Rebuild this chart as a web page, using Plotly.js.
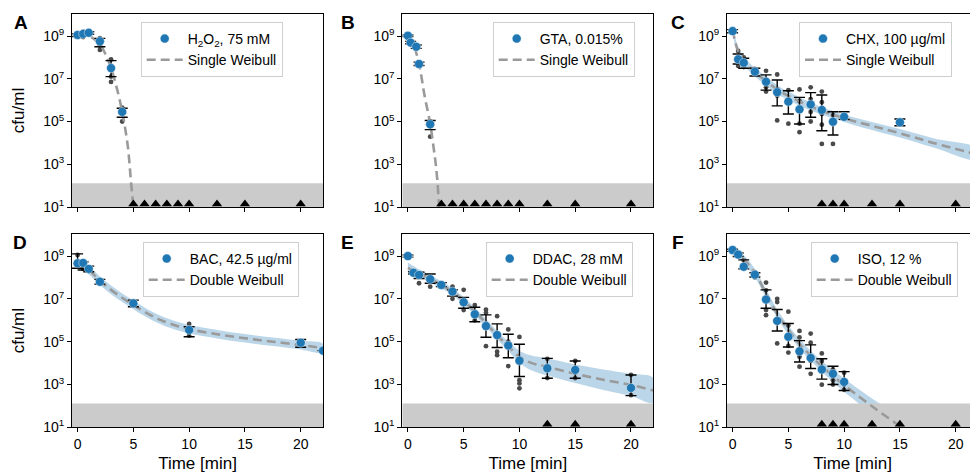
<!DOCTYPE html>
<html><head><meta charset="utf-8">
<script src="https://cdn.plot.ly/plotly-3.0.1.min.js"></script>
<style>html,body{margin:0;padding:0;overflow:hidden;background:#fff}#plot{width:990px;height:474px}</style>
</head><body><div id="plot"></div>
<script>
// ---- data (values read as log10 cfu/ml) ----
const DETECTION_LIMIT = 130;   // cfu/ml, grey band top
const BELOW_MARK = 14;         // y used for "below detection" triangles
const FIT_LABEL_SINGLE = 'Single Weibull';
const FIT_LABEL_DOUBLE = 'Double Weibull';

// A: H2O2, 75 mM
const A_t    = [0, 0.5, 1, 2, 3, 4];
const A_mean = [9.05, 9.1, 9.15, 8.75, 7.5, 5.45];
const A_hi   = [9.1, 9.2, 9.2, 8.89, 7.85, 5.62];
const A_lo   = [8.98, 9.0, 9.08, 8.5, 7.1, 5.2];
const A_rep_t = [0, 0, 0.5, 0.5, 1, 1, 2, 2, 2, 3, 3, 3, 4, 4];
const A_rep   = [9.0, 9.1, 9.2, 8.95, 9.2, 9.1, 8.9, 8.55, 8.35, 7.9, 7.1, 6.85, 5.65, 5.0];
const A_below = [5, 6, 7, 8, 9, 10, 12.5, 15, 20];
const A_fit_t = [0, 1, 1.5, 2, 2.5, 3, 3.5, 4, 4.5, 4.8, 5.0, 5.15];
const A_fit   = [9.1, 9.0, 8.85, 8.62, 8.15, 7.5, 6.6, 5.45, 3.85, 2.1, 1.0, 0.2];

// B: GTA, 0.015%
const B_t    = [0, 0.25, 0.75, 1, 2];
const B_mean = [9.01, 8.69, 8.5, 7.69, 4.87];
const B_hi   = [9.05, 8.75, 8.58, 7.78, 5.05];
const B_lo   = [8.97, 8.64, 8.42, 7.62, 4.62];
const B_rep_t = [0.25, 0.75, 1, 2, 2];
const B_rep   = [8.72, 8.48, 7.72, 5.0, 4.29];
const B_below = [3, 4, 5, 6, 7, 8, 9, 10, 12.5, 15, 20];
const B_fit_t = [0, 0.5, 1, 1.5, 2, 2.3, 2.5, 2.66, 2.8, 2.9];
const B_fit   = [9.05, 8.6, 7.7, 6.2, 4.9, 3.8, 3.0, 2.12, 1.0, 0.3];

// C: CHX, 100 µg/ml
const C_t    = [0, 0.5, 1, 2, 3, 4, 5, 6, 7, 8, 9, 10, 15];
const C_mean = [9.23, 7.91, 7.75, 7.33, 6.86, 6.37, 5.93, 5.57, 5.8, 5.54, 4.99, 5.22, 4.96];
const C_hi   = [9.3, 8.16, 7.96, 7.49, 7.18, 6.94, 6.44, 6.13, 6.35, 6.24, 5.46, 5.46, 5.12];
const C_lo   = [9.15, 7.69, 7.49, 7.13, 6.47, 5.73, 5.35, 4.88, 5.2, 4.57, 4.37, 5.1, 4.8];
const C_rep_t = [0.5, 0.5, 1, 1, 1, 2, 2, 3, 3, 3, 4, 4, 4, 4, 5, 5, 5, 6, 6, 6, 6, 7, 7, 7, 7, 8, 8, 8, 8, 8, 9, 9, 10];
const C_rep   = [8.3, 7.6, 8.0, 7.8, 7.55, 7.46, 7.2, 7.37, 6.6, 6.4, 7.2, 6.5, 6.2, 5.05, 6.47, 5.95, 4.9, 6.5, 5.95, 4.9, 4.5, 6.6, 6.05, 5.45, 5.0, 6.4, 5.9, 5.35, 4.85, 3.95, 5.3, 3.95, 5.25];
const C_below = [8, 9, 10, 12.5, 15, 20];
const C_fit_t = [0, 0.25, 0.5, 1, 2, 3, 4, 5, 7, 10, 12.5, 15, 18, 22];
const C_fit   = [9.3, 8.7, 8.3, 7.85, 7.3, 6.9, 6.5, 6.2, 5.7, 5.15, 4.8, 4.45, 4.0, 3.45];
const C_ci_hi = [9.45, 8.9, 8.5, 8.05, 7.5, 7.1, 6.7, 6.4, 5.88, 5.32, 4.98, 4.65, 4.22, 3.72];
const C_ci_lo = [9.15, 8.5, 8.1, 7.65, 7.1, 6.7, 6.3, 6.0, 5.52, 4.98, 4.6, 4.25, 3.78, 3.2];

// D: BAC, 42.5 µg/ml
const D_t    = [0, 0.5, 1, 2, 5, 10, 20, 22];
const D_mean = [8.66, 8.68, 8.4, 7.8, 6.79, 5.55, 4.95, 4.58];
const D_hi   = [9.1, 8.73, 8.53, 7.91, 6.94, 5.7, 5.1, 4.58];
const D_lo   = [8.43, 8.35, 8.27, 7.69, 6.63, 5.23, 4.74, 4.58];
const D_rep_t = [0, 0, 0.5, 1, 2, 5, 10, 10, 20];
const D_rep   = [9.05, 8.5, 8.4, 8.3, 7.75, 6.85, 5.83, 5.28, 5.0];
const D_below = [];
const D_fit_t = [0, 1, 2, 3, 4, 5, 6, 7.5, 9, 10, 12.5, 15, 17.5, 20, 22];
const D_fit   = [8.7, 8.35, 7.85, 7.42, 7.05, 6.72, 6.4, 6.0, 5.72, 5.58, 5.35, 5.16, 5.0, 4.84, 4.7];
const D_ci_hi = [8.9, 8.55, 8.05, 7.62, 7.25, 6.92, 6.6, 6.2, 5.92, 5.78, 5.55, 5.36, 5.2, 5.04, 4.9];
const D_ci_lo = [8.5, 8.15, 7.65, 7.22, 6.85, 6.52, 6.2, 5.8, 5.52, 5.38, 5.15, 4.96, 4.8, 4.64, 4.5];

// E: DDAC, 28 mM
const E_t    = [0, 0.5, 1, 2, 3, 4, 5, 6, 7, 8, 9, 10, 12.5, 15, 20];
const E_mean = [9.0, 8.22, 8.12, 7.92, 7.65, 7.34, 6.84, 6.28, 5.73, 5.31, 4.82, 4.11, 3.76, 3.68, 2.84];
const E_hi   = [9.05, 8.27, 8.25, 8.16, 7.76, 7.42, 7.07, 6.61, 6.25, 5.83, 5.35, 4.88, 4.22, 4.1, 3.44];
const E_lo   = [8.95, 8.16, 7.95, 7.73, 7.57, 7.13, 6.56, 5.93, 5.21, 4.73, 4.25, 3.37, 3.29, 3.29, 2.48];
const E_rep_t = [0.5, 1, 1, 2, 2, 3, 4, 4, 5, 5, 6, 6, 7, 7, 7, 8, 8, 8, 9, 9, 9, 10, 10, 10, 10, 12.5, 12.5, 15, 15, 20, 20];
const E_rep   = [8.2, 8.1, 7.73, 8.0, 7.57, 7.7, 7.57, 7.0, 7.42, 6.48, 6.71, 6.0, 6.5, 6.35, 4.79, 6.19, 4.53, 4.37, 5.57, 5.0, 3.86, 5.22, 3.2, 3.05, 2.82, 4.2, 3.3, 4.1, 3.3, 3.45, 2.5];
const E_below = [12.5, 15, 20];
const E_fit_t = [0, 1, 2, 3, 4, 5, 6, 7, 8, 9, 10, 11, 12.5, 15, 17.5, 20, 22];
const E_fit   = [8.45, 8.2, 7.95, 7.65, 7.34, 6.9, 6.42, 5.87, 5.3, 4.78, 4.3, 4.02, 3.82, 3.5, 3.22, 2.98, 2.72];
const E_ci_hi = [8.7, 8.38, 8.12, 7.82, 7.5, 7.08, 6.6, 6.06, 5.5, 5.0, 4.58, 4.36, 4.22, 3.93, 3.7, 3.5, 3.3];
const E_ci_lo = [8.2, 8.02, 7.78, 7.48, 7.18, 6.72, 6.24, 5.68, 5.1, 4.56, 4.02, 3.68, 3.42, 3.07, 2.74, 2.46, 2.15];

// F: ISO, 12 %
const F_t    = [0, 0.5, 1, 2, 3, 4, 5, 6, 7, 8, 9, 10];
const F_mean = [9.28, 9.07, 8.5, 8.13, 6.97, 5.97, 5.23, 4.55, 4.24, 3.7, 3.5, 3.12];
const F_hi   = [9.32, 9.14, 8.82, 8.22, 7.42, 6.5, 5.85, 5.05, 4.85, 4.2, 3.85, 3.6];
const F_lo   = [9.22, 8.98, 8.4, 8.02, 6.56, 5.5, 4.75, 4.05, 3.75, 3.25, 3.0, 2.72];
const F_rep_t = [1, 2, 2, 3, 3, 3, 3, 4, 4, 4, 4, 5, 5, 5, 5, 6, 6, 6, 6, 7, 7, 7, 7, 8, 8, 8, 9, 9, 9, 10, 10, 10];
const F_rep   = [8.8, 8.25, 8.0, 7.76, 7.4, 6.48, 6.24, 7.0, 6.85, 5.95, 4.92, 6.4, 5.75, 4.8, 4.49, 5.5, 5.2, 4.3, 3.83, 5.38, 4.95, 4.1, 3.5, 4.45, 4.1, 2.99, 3.7, 3.2, 3.0, 3.55, 3.0, 2.75];
const F_below = [8, 9, 10, 12.5, 15, 20];
const F_fit_t = [0, 1, 2, 3, 4, 5, 6, 7, 8, 9, 10, 11, 12.5, 14, 15, 16];
const F_fit   = [9.3, 8.85, 8.2, 7.25, 6.3, 5.55, 4.9, 4.35, 3.85, 3.4, 2.97, 2.57, 1.98, 1.42, 1.05, 0.7];
const F_ci_hi = [9.45, 9.05, 8.4, 7.45, 6.5, 5.75, 5.12, 4.58, 4.1, 3.68, 3.28, 2.9, 2.35, 1.85, 1.5, 1.2];
const F_ci_lo = [9.15, 8.65, 8.0, 7.05, 6.1, 5.35, 4.68, 4.12, 3.6, 3.12, 2.66, 2.24, 1.6, 0.99, 0.6, 0.2];

const panelLetters = ['A', 'B', 'C', 'D', 'E', 'F'];
const seriesNames = ['H<sub>2</sub>O<sub>2</sub>, 75 mM', 'GTA, 0.015%', 'CHX, 100 µg/ml', 'BAC, 42.5 µg/ml', 'DDAC, 28 mM', 'ISO, 12 %'];
const fitNames = [FIT_LABEL_SINGLE, FIT_LABEL_SINGLE, FIT_LABEL_SINGLE, FIT_LABEL_DOUBLE, FIT_LABEL_DOUBLE, FIT_LABEL_DOUBLE];
const yTickVals = [1e1, 1e3, 1e5, 1e7, 1e9];
const yTickText = ['10<sup>1</sup>', '10<sup>3</sup>', '10<sup>5</sup>', '10<sup>7</sup>', '10<sup>9</sup>'];
const xTickVals = [0, 5, 10, 15, 20];

// ---- build ----
const P = a => a.map(v => Math.pow(10, v));
const panels = [
  {t:A_t, m:A_mean, hi:A_hi, lo:A_lo, rt:A_rep_t, r:A_rep, below:A_below, ft:A_fit_t, f:A_fit},
  {t:B_t, m:B_mean, hi:B_hi, lo:B_lo, rt:B_rep_t, r:B_rep, below:B_below, ft:B_fit_t, f:B_fit},
  {t:C_t, m:C_mean, hi:C_hi, lo:C_lo, rt:C_rep_t, r:C_rep, below:C_below, ft:C_fit_t, f:C_fit, cih:C_ci_hi, cil:C_ci_lo},
  {t:D_t, m:D_mean, hi:D_hi, lo:D_lo, rt:D_rep_t, r:D_rep, below:D_below, ft:D_fit_t, f:D_fit, cih:D_ci_hi, cil:D_ci_lo},
  {t:E_t, m:E_mean, hi:E_hi, lo:E_lo, rt:E_rep_t, r:E_rep, below:E_below, ft:E_fit_t, f:E_fit, cih:E_ci_hi, cil:E_ci_lo},
  {t:F_t, m:F_mean, hi:F_hi, lo:F_lo, rt:F_rep_t, r:F_rep, below:F_below, ft:F_fit_t, f:F_fit, cih:F_ci_hi, cil:F_ci_lo}
];

const W = 990, H = 474;
const XR = [-0.5, 22], YR = [1, 10.03];
const colsPx = [[72, 323], [402.3, 653.3], [727, 978]];
const rowsPx = [[14, 207], [234, 427.3]];
const legendLeftPx = [[140.7, 22], [492.7, 22], [799, 22], [142.7, 242], [485.7, 242], [810.7, 242]];
const letterPx = [[21, 22.5], [348, 22.5], [678, 22.5], [20, 242.5], [347.5, 242.5], [677.5, 242.5]];
const FONT = 'Liberation Sans, Arial, sans-serif';

const traces = [];
const layout = {
  width: W, height: H, margin: {l:0, r:0, t:0, b:0},
  paper_bgcolor: '#fff', plot_bgcolor: '#fff',
  font: {family: FONT, color: '#000', size: 14},
  showlegend: true, annotations: []
};

panels.forEach((p, i) => {
  const n = i + 1, sfx = n === 1 ? '' : String(n);
  const xa = 'x' + sfx, ya = 'y' + sfx;
  const lg = 'legend' + sfx;
  const col = i % 3, row = Math.floor(i / 3);
  // confidence band
  if (p.cih) {
    traces.push({x:p.ft.concat(p.ft.slice().reverse()), y:P(p.cih).concat(P(p.cil).reverse()), xaxis:xa, yaxis:ya,
      type:'scatter', mode:'lines', fill:'toself', fillcolor:'rgba(31,119,180,0.3)', line:{width:0, shape:'spline'},
      hoverinfo:'skip', showlegend:false});
  }
  // detection band (drawn over the confidence band)
  traces.push({x:[XR[0], XR[1], XR[1], XR[0]], y:[10, 10, DETECTION_LIMIT, DETECTION_LIMIT], xaxis:xa, yaxis:ya,
    type:'scatter', mode:'lines', fill:'toself', fillcolor:'#cbcbcb', line:{width:0}, hoverinfo:'skip', showlegend:false});
  // replicates
  traces.push({x:p.rt, y:P(p.r), xaxis:xa, yaxis:ya, type:'scatter', mode:'markers',
    marker:{size:4.8, color:'#4a4a4a'}, showlegend:false});
  // fit line
  traces.push({x:p.ft, y:P(p.f), xaxis:xa, yaxis:ya, type:'scatter', mode:'lines', name:fitNames[i],
    line:{color:'#9a9a9a', width:2.6, dash:'9px,5px', shape:'spline'}, legend:lg, legendrank:2});
  // means with error bars
  const mv = P(p.m), hv = P(p.hi), lv = P(p.lo);
  traces.push({x:p.t, y:mv, xaxis:xa, yaxis:ya, type:'scatter', mode:'markers', name:seriesNames[i],
    marker:{size:9, color:'#1f77b4', line:{color:'rgba(255,255,255,0.7)', width:0.6}},
    error_y:{type:'data', symmetric:false, array:hv.map((h, k) => h - mv[k]), arrayminus:lv.map((l, k) => mv[k] - l),
      color:'#000', thickness:1.4, width:5.5},
    legend:lg, legendrank:1});
  // below detection
  if (p.below.length) {
    traces.push({x:p.below, y:p.below.map(() => BELOW_MARK), xaxis:xa, yaxis:ya, type:'scatter', mode:'markers',
      marker:{symbol:'triangle-up', size:9, color:'#000'}, cliponaxis:false, showlegend:false});
  }
  const xd = [colsPx[col][0] / W, colsPx[col][1] / W];
  const yd = [1 - rowsPx[row][1] / H, 1 - rowsPx[row][0] / H];
  layout['xaxis' + sfx] = {domain:xd, anchor:ya, range:XR, tickvals:xTickVals, ticks:'outside', ticklen:4, tickwidth:1,
    tickcolor:'#000', showline:true, mirror:true, linecolor:'#000', linewidth:1, showgrid:false, zeroline:false,
    showticklabels: row === 1, tickfont:{size:14},
    title: row === 1 ? {text:'Time [min]', font:{size:17}, standoff:6} : {text:''}};
  layout['yaxis' + sfx] = {domain:yd, anchor:xa, type:'log', range:YR, tickvals:yTickVals, ticktext:yTickText,
    ticks:'outside', ticklen:4, tickwidth:1, tickcolor:'#000', showline:true, mirror:true, linecolor:'#000', linewidth:1,
    showgrid:false, zeroline:false, tickfont:{size:14},
    title: col === 0 ? {text:'cfu/ml', font:{size:17}, standoff:14} : {text:''}};
  layout[lg] = {x:legendLeftPx[i][0] / W, y:1 - legendLeftPx[i][1] / H, xanchor:'left', yanchor:'top',
    xref:'paper', yref:'paper', bgcolor:'rgba(255,255,255,0.85)', bordercolor:'#cfcfcf', borderwidth:1,
    font:{size:14}, itemclick:false, itemwidth:36};
  layout.annotations.push({text:'<b>' + panelLetters[i] + '</b>', xref:'paper', yref:'paper',
    x:letterPx[i][0] / W, y:1 - letterPx[i][1] / H, xanchor:'center', yanchor:'middle', showarrow:false,
    font:{size:19, family:FONT}});
});

Plotly.newPlot('plot', traces, layout, {staticPlot:true, displayModeBar:false});
</script></body></html>
